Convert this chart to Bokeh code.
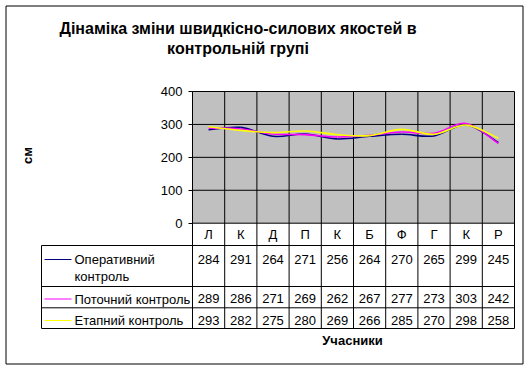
import numpy as np
from bokeh.plotting import figure
from bokeh.models import Range1d, FixedTicker
from bokeh.core.properties import value
from bokeh.embed import file_html
from bokeh.resources import INLINE

# ---------------- data ----------------
title_lines = ["Дінаміка зміни швидкісно-силових якостей в", "контрольній групі"]
categories = ["Л", "К", "Д", "П", "К", "Б", "Ф", "Г", "К", "Р"]
series_names = [["Оперативний", "контроль"], ["Поточний контроль"], ["Етапний контроль"]]
operatyvnyi = [284, 291, 264, 271, 256, 264, 270, 265, 299, 245]
potochnyi = [289, 286, 271, 269, 262, 267, 277, 273, 303, 242]
etapnyi = [293, 282, 275, 280, 269, 266, 285, 270, 298, 258]
y_ticks = [0, 100, 200, 300, 400]
y_label = "см"
x_label = "Учасники"

series = [operatyvnyi, potochnyi, etapnyi]
colors = ["#000080", "#FF00FF", "#FFFF00"]

FONT = "Liberation Sans"

# ---------------- layout geometry (page pixels) ----------------
W, H = 530, 369
FL, FR = 192, 514           # plot area left/right
Y0PX, Y400PX = 222.7, 91.0  # pixels of value 0 and 400
K = (Y0PX - Y400PX) / 400.0
COLW = (FR - FL) / 10.0

def dx(px):
    return (px - FL) / COLW

def dy(py):
    return (Y0PX - py) / K

p = figure(width=W, height=H, x_range=Range1d(dx(0), dx(W)), y_range=Range1d(dy(H), dy(0)),
           output_backend="svg", toolbar_location=None, x_axis_location=None,
           min_border=0, min_border_left=0, min_border_right=0, min_border_top=0, min_border_bottom=0,
           background_fill_color="white", border_fill_color="white", outline_line_color=None)
p.grid.visible = False

ncat = len(categories)
ymax = max(y_ticks)

# gray plot area
p.quad(left=0, right=ncat, bottom=0, top=ymax, fill_color="#C0C0C0", line_color=None, level="image")

# horizontal gridlines
p.segment(x0=[0] * len(y_ticks), x1=[ncat] * len(y_ticks), y0=y_ticks, y1=y_ticks,
          line_color="black", line_width=1)

# vertical column lines (plot area + category row + table)
tbl_bottom = dy(328)
p.segment(x0=list(range(ncat + 1)), x1=list(range(ncat + 1)), y0=[ymax] * (ncat + 1),
          y1=[tbl_bottom] * (ncat + 1), line_color="black", line_width=1)

# table horizontal lines and left border
row_edges = [dy(245), dy(286), dy(307.3), dy(328)]
p.segment(x0=[dx(41)] * 4, x1=[ncat] * 4, y0=row_edges, y1=row_edges, line_color="black", line_width=1)
p.segment(x0=[dx(41)], x1=[dx(41)], y0=[row_edges[0]], y1=[row_edges[-1]], line_color="black", line_width=1)

# y axis at x = 0
ax = p.yaxis[0]
ax.fixed_location = 0
ax.bounds = (0, ymax)
ax.ticker = FixedTicker(ticks=y_ticks)
ax.major_tick_out = 4
ax.major_tick_in = 0
ax.minor_tick_line_color = None
ax.axis_line_color = "black"
ax.major_tick_line_color = "black"
ax.major_label_standoff = 6
ax.major_label_text_font = FONT
ax.major_label_text_font_size = "13px"
ax.major_label_text_color = "black"

# smooth lines (bezier segments through the data points)
xs = [i + 0.5 for i in range(ncat)]
n = len(xs)
for vals, col in zip(series, colors):
    x0, y0, x1, y1, cx0, cy0, cx1, cy1 = [], [], [], [], [], [], [], []
    for i in range(n - 1):
        ip = max(i - 1, 0)
        inn = min(i + 2, n - 1)
        x0.append(xs[i]); y0.append(vals[i])
        x1.append(xs[i + 1]); y1.append(vals[i + 1])
        cx0.append(xs[i] + (xs[i + 1] - xs[ip]) / 6.0)
        cy0.append(vals[i] + (vals[i + 1] - vals[ip]) / 6.0)
        cx1.append(xs[i + 1] - (xs[inn] - xs[i]) / 6.0)
        cy1.append(vals[i + 1] - (vals[inn] - vals[i]) / 6.0)
    p.bezier(x0=x0, y0=y0, x1=x1, y1=y1, cx0=cx0, cy0=cy0, cx1=cx1, cy1=cy1,
             line_color=col, line_width=1.6)

txt = dict(text_font=value(FONT), text_font_size="13px", text_color="black", text_baseline="middle")

# category row
p.text(x=xs, y=[dy(233.5)] * n, text=categories, text_align="center", **txt)

# data table values
row_y = [dy(258.5), dy(298), dy(319.5)]
for vals, ry in zip(series, row_y):
    p.text(x=xs, y=[ry] * n, text=[str(v) for v in vals], text_align="center", **txt)

# legend keys and names
key_y = [259, 298.5, 320]
p.segment(x0=[dx(44)] * 3, x1=[dx(71)] * 3, y0=[dy(k) for k in key_y], y1=[dy(k) for k in key_y],
          line_color=colors, line_width=1)
for names, ky in zip(series_names, key_y):
    p.text(x=[dx(74)] * len(names), y=[dy(ky + j * 16.5) for j in range(len(names))], text=names,
           text_align="left", **txt)

# title
bold = dict(text_font=value(FONT), text_font_style="bold", text_color="black", text_baseline="middle",
            text_align="center")
p.text(x=[dx(237.5)] * 2, y=[dy(28), dy(48)], text=title_lines, text_font_size="16px", **bold)

# axis titles
p.text(x=[dx(27)], y=[dy(155)], text=[y_label], angle=np.pi / 2, text_font_size="13px", **bold)
p.text(x=[dx(352)], y=[dy(340)], text=[x_label], text_font_size="13px", **bold)

# outer chart border
p.quad(left=dx(5.5), right=dx(522.5), top=dy(5.5), bottom=dy(363.5), fill_color=None,
       line_color="black", line_width=1)

open("out.html", "w").write(file_html(p, INLINE))
